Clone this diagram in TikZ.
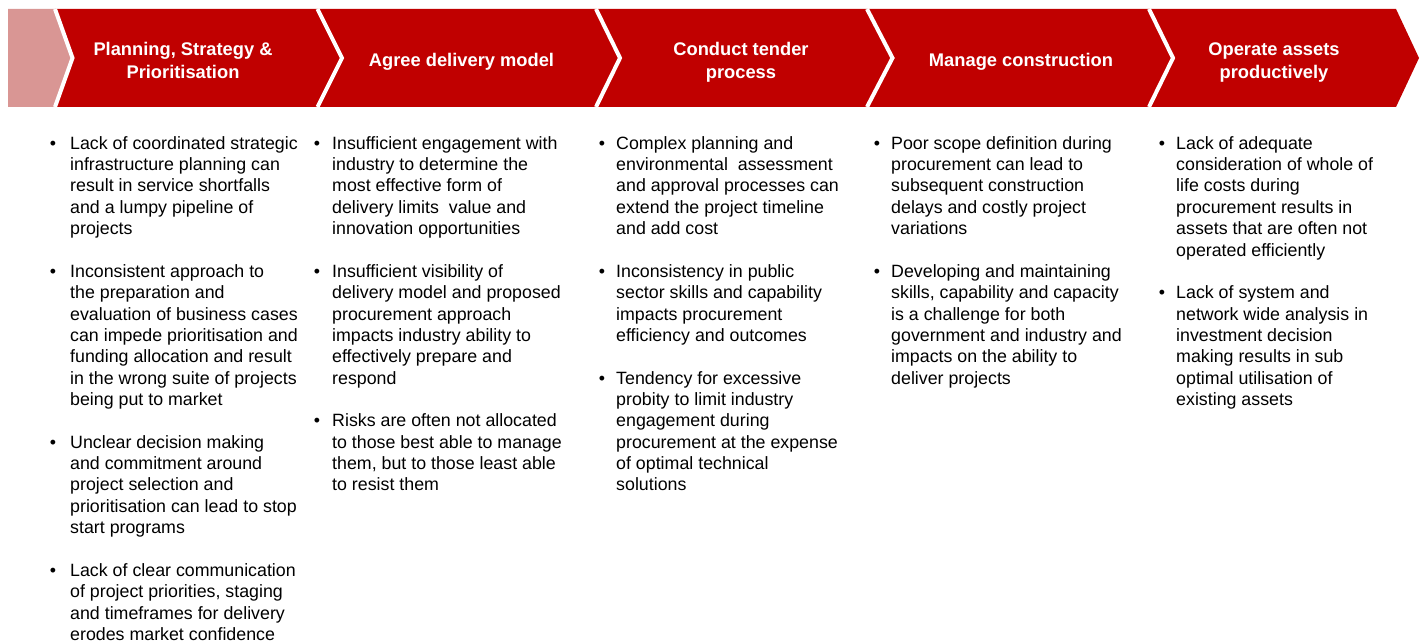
\documentclass[tikz,border=0pt]{standalone}
\usepackage{fontspec}
\setmainfont{Liberation Sans}
\definecolor{chevred}{HTML}{C00000}
\definecolor{chevpink}{HTML}{D99694}
\begin{document}
\begin{tikzpicture}[x=1pt,y=-1pt,
  hdr/.style={text=white, font=\fontsize{18.3}{23}\selectfont\bfseries, align=center, inner sep=0pt, anchor=base},
  body/.style={font=\fontsize{17.8}{21.35}\selectfont, align=left, inner sep=0pt, anchor=base west, text=black},
  dot/.style={font=\fontsize{17.8}{21.35}\selectfont, inner sep=0pt, anchor=base},
  sep/.style={white, line width=4pt}]
\useasboundingbox (0,0) rectangle (1421,644);
% chevron band
\fill[chevpink] (8,9) -- (55,9) -- (72.5,58) -- (55,107) -- (8,107) -- cycle;
\fill[chevred] (55,9) -- (1396,9) -- (1419,58) -- (1396,107) -- (55,107) -- (72.5,58) -- cycle;
\draw[sep] (55,9) -- (72.5,58) -- (55,107);
\draw[sep] (317.5,9) -- (342,58) -- (317.5,107);
\draw[sep] (596,9) -- (620,58) -- (596,107);
\draw[sep] (867,9) -- (892.5,58) -- (867,107);
\draw[sep] (1149,9) -- (1173,58) -- (1149,107);
% headers (anchor = baseline of last line)
\node[hdr] (h1) at (183,78.5) {Planning, Strategy \&\\Prioritisation};
\node[hdr] (h2) at (461.5,66.5) {Agree delivery model};
\node[hdr] (h3) at (741,78.5) {Conduct tender\\process};
\node[hdr] (h4) at (1021,66.5) {Manage construction};
\node[hdr] (h5) at (1274,78.5) {Operate assets\\productively};
% column 1
\node[dot] (d11) at (53,149.3) {•};
\node[body] (t11) at (70,234.7) {Lack of coordinated strategic\\infrastructure planning can\\result in service shortfalls\\and a lumpy pipeline of\\projects};
\node[dot] (d12) at (53,277.4) {•};
\node[body] (t12) at (70,405.5) {Inconsistent approach to\\the preparation and\\evaluation of business cases\\can impede prioritisation and\\funding allocation and result\\in the wrong suite of projects\\being put to market};
\node[dot] (d13) at (53,448.2) {•};
\node[body] (t13) at (70,533.6) {Unclear decision making\\and commitment around\\project selection and\\prioritisation can lead to stop\\start programs};
\node[dot] (d14) at (53,576.3) {•};
\node[body] (t14) at (70,640.35) {Lack of clear communication\\of project priorities, staging\\and timeframes for delivery\\erodes market confidence};
% column 2
\node[dot] (d21) at (317,149.3) {•};
\node[body] (t21) at (332,234.7) {Insufficient engagement with\\industry to determine the\\most effective form of\\delivery limits\ \ value and\\innovation opportunities};
\node[dot] (d22) at (317,277.4) {•};
\node[body] (t22) at (332,384.15) {Insufficient visibility of\\delivery model and proposed\\procurement approach\\impacts industry ability to\\effectively prepare and\\respond};
\node[dot] (d23) at (317,426.85) {•};
\node[body] (t23) at (332,490.9) {Risks are often not allocated\\to those best able to manage\\them, but to those least able\\to resist them};
% column 3
\node[dot] (d31) at (602,149.3) {•};
\node[body] (t31) at (616,234.7) {Complex planning and\\environmental\ \ assessment\\and approval processes can\\extend the project timeline\\and add cost};
\node[dot] (d32) at (602,277.4) {•};
\node[body] (t32) at (616,341.45) {Inconsistency in public\\sector skills and capability\\impacts procurement\\efficiency and outcomes};
\node[dot] (d33) at (602,384.15) {•};
\node[body] (t33) at (616,490.9) {Tendency for excessive\\probity to limit industry\\engagement during\\procurement at the expense\\of optimal technical\\solutions};
% column 4
\node[dot] (d41) at (877,149.3) {•};
\node[body] (t41) at (891,234.7) {Poor scope definition during\\procurement can lead to\\subsequent construction\\delays and costly project\\variations};
\node[dot] (d42) at (877,277.4) {•};
\node[body] (t42) at (891,384.15) {Developing and maintaining\\skills, capability and capacity\\is a challenge for both\\government and industry and\\impacts on the ability to\\deliver projects};
% column 5
\node[dot] (d51) at (1162,149.3) {•};
\node[body] (t51) at (1176,256.05) {Lack of adequate\\consideration of whole of\\life costs during\\procurement results in\\assets that are often not\\operated efficiently};
\node[dot] (d52) at (1162,298.75) {•};
\node[body] (t52) at (1176,405.5) {Lack of system and\\network wide analysis in\\investment decision\\making results in sub\\optimal utilisation of\\existing assets};
\end{tikzpicture}
\end{document}
